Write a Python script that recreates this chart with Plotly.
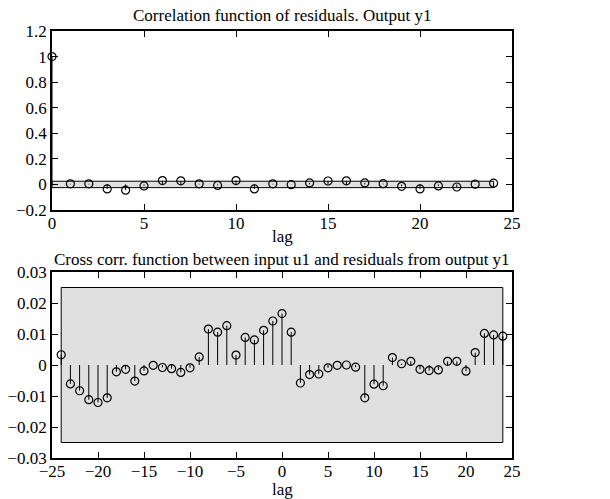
import plotly.graph_objects as go

# Residual autocorrelation, output y1 (lags 0..24)
auto_lags = list(range(0, 25))
auto_vals = [1.0, 0.005, 0.005, -0.035, -0.045, -0.012, 0.030, 0.028, 0.005, -0.008,
             0.030, -0.035, 0.005, -0.002, 0.012, 0.027, 0.028, 0.012, 0.006, -0.015,
             -0.035, -0.012, -0.020, 0.002, 0.010]
auto_conf = 0.025

# Cross correlation between input u1 and residuals of y1 (lags -24..24)
cross_lags = list(range(-24, 25))
cross_vals = [0.0033, -0.0061, -0.0083, -0.0112, -0.0121, -0.0106, -0.0022, -0.0014,
              -0.0052, -0.0019, -0.0001, -0.0008, -0.0012, -0.0024, -0.0009, 0.0026,
              0.0116, 0.0106, 0.0127, 0.0032, 0.0089, 0.0081, 0.0112, 0.0142, 0.0166,
              0.0106, -0.0058, -0.0031, -0.0029, -0.0009, -0.0001, 0.0000, -0.0007,
              -0.0106, -0.0062, -0.0067, 0.0024, 0.0004, 0.0012, -0.0014, -0.0018,
              -0.0016, 0.0012, 0.0012, -0.0020, 0.0040, 0.0102, 0.0097, 0.0093]
cross_conf = 0.025

FONT = "Liberation Serif, Times New Roman, DejaVu Serif, serif"
FS = 17


def stems(xs, ys):
    sx, sy = [], []
    for x, y in zip(xs, ys):
        sx += [x, x, None]
        sy += [0, y, None]
    return sx, sy


fig = go.Figure()

for xs, ys, xa, ya in [(auto_lags, auto_vals, "x", "y"),
                       (cross_lags, cross_vals, "x2", "y2")]:
    sx, sy = stems(xs, ys)
    fig.add_trace(go.Scatter(x=sx, y=sy, mode="lines", xaxis=xa, yaxis=ya,
                             line=dict(color="black", width=1), hoverinfo="skip"))
    fig.add_trace(go.Scatter(x=xs, y=ys, mode="markers", xaxis=xa, yaxis=ya,
                             cliponaxis=False,
                             marker=dict(symbol="circle-open", size=8, color="black",
                                         line=dict(width=1.2, color="black"))))

# Confidence bands
fig.add_shape(type="rect", xref="x", yref="y", x0=auto_lags[0], x1=auto_lags[-1],
              y0=-auto_conf, y1=auto_conf, fillcolor="#e0e0e0",
              line=dict(color="black", width=1), layer="below")
fig.add_shape(type="rect", xref="x2", yref="y2", x0=cross_lags[0], x1=cross_lags[-1],
              y0=-cross_conf, y1=cross_conf, fillcolor="#e0e0e0",
              line=dict(color="black", width=1), layer="below")

axis_common = dict(showline=True, linecolor="black", linewidth=1.5, mirror="ticks",
                   ticks="inside", ticklen=6, tickcolor="black", tickwidth=1,
                   showgrid=False, zeroline=False, automargin=False,
                   tickfont=dict(family=FONT, size=FS, color="black"))

W, H = 610, 499
xd = [52 / W, 512 / W]
fig.update_layout(
    width=W, height=H,
    margin=dict(l=0, r=0, t=0, b=0, autoexpand=False),
    paper_bgcolor="white", plot_bgcolor="white",
    showlegend=False,
    font=dict(family=FONT, size=FS, color="black"),
    xaxis=dict(domain=xd, range=[0, 25], tickvals=[0, 5, 10, 15, 20, 25],
               anchor="y", ticklabelstandoff=-3, **axis_common),
    yaxis=dict(domain=[1 - 210 / H, 1 - 31 / H], range=[-0.2, 1.2],
               tickvals=[-0.2, 0, 0.2, 0.4, 0.6, 0.8, 1, 1.2],
               ticktext=["\u22120.2", "0", "0.2", "0.4", "0.6", "0.8", "1", "1.2"],
               anchor="x", **axis_common),
    xaxis2=dict(domain=xd, range=[-25, 25], tickvals=list(range(-25, 30, 5)),
                anchor="y2", ticklabelstandoff=-3, **axis_common),
    yaxis2=dict(domain=[1 - 458 / H, 1 - 272 / H], range=[-0.03, 0.03],
                tickvals=[-0.03, -0.02, -0.01, 0, 0.01, 0.02, 0.03],
                ticktext=["\u22120.03", "\u22120.02", "\u22120.01", "0", "0.01", "0.02", "0.03"],
                anchor="x2", **axis_common),
)

xc = (xd[0] + xd[1]) / 2
ann = [
    ("Correlation function of residuals. Output y1", 1 - 15 / H),
    ("lag", 1 - 236 / H),
    ("Cross corr. function between input u1 and residuals from output y1", 1 - 259 / H),
    ("lag", 1 - 489 / H),
]
for text, y in ann:
    fig.add_annotation(text=text, x=xc, y=y, xref="paper", yref="paper",
                       showarrow=False, xanchor="center", yanchor="middle",
                       font=dict(family=FONT, size=FS, color="black"))

fig.write_html("out.html")
